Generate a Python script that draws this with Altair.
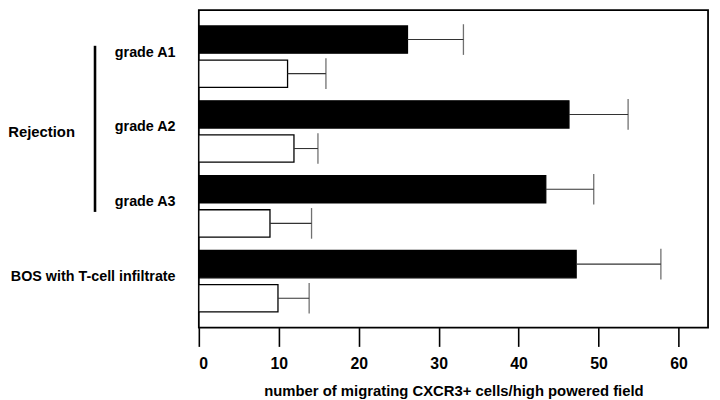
import altair as alt
import pandas as pd

groups = ["grade A1", "grade A2", "grade A3", "BOS with T-cell infiltrate"]
series = ["filled", "open"]
filled_mean = [26.1, 46.3, 43.4, 47.2]
filled_err = [7.0, 7.4, 6.0, 10.6]
open_mean = [11.1, 11.9, 8.9, 9.9]
open_err = [4.8, 3.0, 5.2, 3.9]
x_ticks = [0, 10, 20, 30, 40, 50, 60]
x_title = "number of migrating CXCR3+ cells/high powered field"
bracket_label = "Rejection"

rows = []
for i, g in enumerate(groups):
    rows.append({"group": g, "series": "filled", "value": filled_mean[i], "hi": filled_mean[i] + filled_err[i]})
    rows.append({"group": g, "series": "open", "value": open_mean[i], "hi": open_mean[i] + open_err[i]})
df = pd.DataFrame(rows)

FONT = "Liberation Sans"

yenc = alt.Y(
    "group:N",
    sort=groups,
    scale=alt.Scale(domain=groups, paddingInner=0.18, paddingOuter=0.21),
    axis=alt.Axis(
        title=None, ticks=False, domain=False, labelPadding=24, labelFont=FONT,
        labelFontSize=14.5, labelFontWeight="bold", labelColor="black", labelOffset=-4,
        labelLimit=300,
    ),
)
yoff = alt.YOffset("series:N", sort=series, scale=alt.Scale(domain=series, paddingInner=0.2))
xenc = alt.X(
    "value:Q",
    scale=alt.Scale(domain=[0, 63.7], nice=False, zero=True),
    axis=alt.Axis(
        title=x_title, values=x_ticks, grid=False, domain=False, tickSize=19,
        tickWidth=1.6, tickColor="black", labelFont=FONT, labelFontSize=16,
        labelFontWeight="bold", labelColor="black", labelPadding=9,
        titleFont=FONT, titleFontSize=15, titleFontWeight="bold", titleColor="black",
        titlePadding=13, format="d",
    ),
)

base = alt.Chart(df)

bars = base.mark_bar(stroke="black", strokeWidth=1.3).encode(
    y=yenc,
    yOffset=yoff,
    x=xenc,
    color=alt.Color("series:N", scale=alt.Scale(domain=series, range=["black", "white"]), legend=None),
)

whisk = base.mark_rule(color="#333333", strokeWidth=1.1).encode(
    y=alt.Y("group:N", sort=groups),
    yOffset=alt.YOffset("series:N", sort=series),
    x="value:Q",
    x2="hi:Q",
)

caps = base.mark_tick(color="#333333", thickness=1.3, size=31, orient="vertical").encode(
    y=alt.Y("group:N", sort=groups),
    yOffset=alt.YOffset("series:N", sort=series),
    x="hi:Q",
)

label_df = pd.DataFrame({"group": ["grade A2"], "label": [bracket_label]})
rej = alt.Chart(label_df).mark_text(
    font=FONT, fontSize=15, fontWeight="bold", color="black", align="center", baseline="middle", dy=1
).encode(
    y=alt.Y("group:N", sort=groups),
    x=alt.value(-159),
    text="label:N",
)

line_df = pd.DataFrame({"label": [bracket_label]})
bracket = alt.Chart(line_df).mark_rule(color="black", strokeWidth=2.6).encode(
    x=alt.value(-105),
    y=alt.value(36),
    y2=alt.value(204),
)

chart = (
    alt.layer(bars, whisk, caps, rej, bracket)
    .properties(
        width=515,
        height=321,
        autosize=alt.AutoSizeParams(type="none"),
        padding={"left": 193, "top": 0, "right": 4, "bottom": 71},
    )
    .configure(background="white")
    .configure_view(stroke="black", strokeWidth=1.8)
)

chart.save("out.html", embed_options={"renderer": "svg", "actions": False})
